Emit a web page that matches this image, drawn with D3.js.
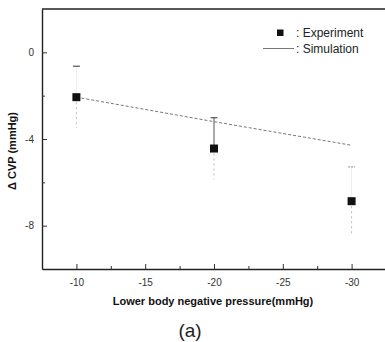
<!DOCTYPE html>
<html>
<head>
<meta charset="utf-8">
<script src="https://cdn.jsdelivr.net/npm/d3@7"></script>
<style>
  html, body { margin: 0; padding: 0; background: #fff; overflow: hidden; }
  svg { display: block; font-family: "Liberation Sans", Arial, sans-serif; }
</style>
</head>
<body>
<svg id="chart" width="385" height="342"></svg>
<script>
// data
const pressure = [-10, -20, -30];
const experiment = [-2.07, -4.44, -6.87];
const errorBar = [1.43, 1.42, 1.58];
const simulation = [-2.07, -3.2, -4.29];
const xTicks = [-10, -15, -20, -25, -30];
const xMinor = [-12.5, -17.5, -22.5, -27.5];
const yTicks = [0, -4, -8];
const yMinor = [-2, -6];

const margin = { left: 42, top: 9, right: 386, bottom: 269 };

const svg = d3.select("#chart");

const x = d3.scaleLinear().domain([-7.5, -32.5]).range([margin.left, margin.right]);
const y = d3.scaleLinear().domain([-10, 2]).range([margin.bottom, margin.top]);

// top edge of the frame (right side falls outside the picture)
svg.append("line")
  .attr("x1", margin.left).attr("x2", 385)
  .attr("y1", margin.top).attr("y2", margin.top)
  .attr("stroke", "#222").attr("stroke-width", 1.4);

const fmt = d => String(d);

// x axis, ticks inward
svg.append("g")
  .attr("transform", "translate(0," + margin.bottom + ")")
  .call(d3.axisBottom(x).tickValues(xTicks).tickSizeInner(-5).tickSizeOuter(0).tickPadding(10).tickFormat(fmt));
svg.append("g")
  .attr("transform", "translate(0," + margin.bottom + ")")
  .call(d3.axisBottom(x).tickValues(xMinor).tickSizeInner(-3).tickSizeOuter(0).tickFormat(""))
  .call(g => g.select(".domain").remove());

svg.append("g")
  .attr("transform", "translate(" + margin.left + ",0)")
  .call(d3.axisLeft(y).tickValues(yTicks).tickSizeInner(-5).tickSizeOuter(0).tickPadding(8).tickFormat(fmt));
svg.append("g")
  .attr("transform", "translate(" + margin.left + ",0)")
  .call(d3.axisLeft(y).tickValues(yMinor).tickSizeInner(-3).tickSizeOuter(0).tickFormat(""))
  .call(g => g.select(".domain").remove());

svg.selectAll(".domain").attr("stroke", "#222").attr("stroke-width", 1.4);
svg.selectAll(".tick line").attr("stroke", "#333");
svg.selectAll(".tick text")
  .attr("font-family", "Liberation Sans, Arial, sans-serif")
  .attr("font-size", 10).attr("fill", "#333");

// simulation line
svg.append("path")
  .datum(pressure.map((p, i) => [p, simulation[i]]))
  .attr("fill", "none").attr("stroke", "#777").attr("stroke-width", 1)
  .attr("stroke-dasharray", "3,2")
  .attr("d", d3.line().x(d => x(d[0])).y(d => y(d[1])));

// error bars (scan shows them faint except the middle upper whisker)
const err = svg.append("g");
pressure.forEach((p, i) => {
  err.append("line")
    .attr("x1", x(p)).attr("x2", x(p))
    .attr("y1", y(experiment[i] + errorBar[i])).attr("y2", y(experiment[i]))
    .attr("stroke", i === 1 ? "#555" : "#eee").attr("stroke-width", 1);
  err.append("line")
    .attr("x1", x(p)).attr("x2", x(p))
    .attr("y1", y(experiment[i])).attr("y2", y(experiment[i] - errorBar[i]))
    .attr("stroke", "#bbb").attr("stroke-width", 1).attr("stroke-dasharray", "2,3");
  err.append("line")
    .attr("x1", x(p) - 3.5).attr("x2", x(p) + 3.5)
    .attr("y1", y(experiment[i] + errorBar[i])).attr("y2", y(experiment[i] + errorBar[i]))
    .attr("stroke", i === 2 ? "#888" : "#333").attr("stroke-width", 1)
    .attr("stroke-dasharray", i === 2 ? "2,1" : null);
});

// experiment squares
const sq = 8;
svg.append("g").selectAll("rect")
  .data(pressure)
  .join("rect")
  .attr("x", (d) => x(d) - sq / 2)
  .attr("y", (d, i) => y(experiment[i]) - sq / 2)
  .attr("width", sq).attr("height", sq)
  .attr("fill", "#111");

// legend
const legend = svg.append("g");
legend.append("rect")
  .attr("x", 277).attr("y", 29.5).attr("width", 6.5).attr("height", 6.5).attr("fill", "#111");
legend.append("text")
  .attr("x", 296).attr("y", 37)
  .attr("font-size", 12).attr("fill", "#222")
  .text(": Experiment");
legend.append("line")
  .attr("x1", 263).attr("x2", 294).attr("y1", 48.5).attr("y2", 48.5)
  .attr("stroke", "#777").attr("stroke-width", 1);
legend.append("text")
  .attr("x", 296).attr("y", 52.5)
  .attr("font-size", 12).attr("fill", "#222")
  .text(": Simulation");

// axis titles
svg.append("text")
  .attr("x", 213).attr("y", 305)
  .attr("text-anchor", "middle")
  .attr("font-size", 11).attr("font-weight", "bold").attr("fill", "#111")
  .text("Lower body negative pressure(mmHg)");

svg.append("text")
  .attr("transform", "translate(16,151) rotate(-90)")
  .attr("text-anchor", "middle")
  .attr("font-size", 11).attr("font-weight", "bold").attr("fill", "#111")
  .text("Δ CVP (mmHg)");

svg.append("text")
  .attr("x", 190).attr("y", 337)
  .attr("text-anchor", "middle")
  .attr("font-size", 19).attr("fill", "#222")
  .text("(a)");
</script>
</body>
</html>
